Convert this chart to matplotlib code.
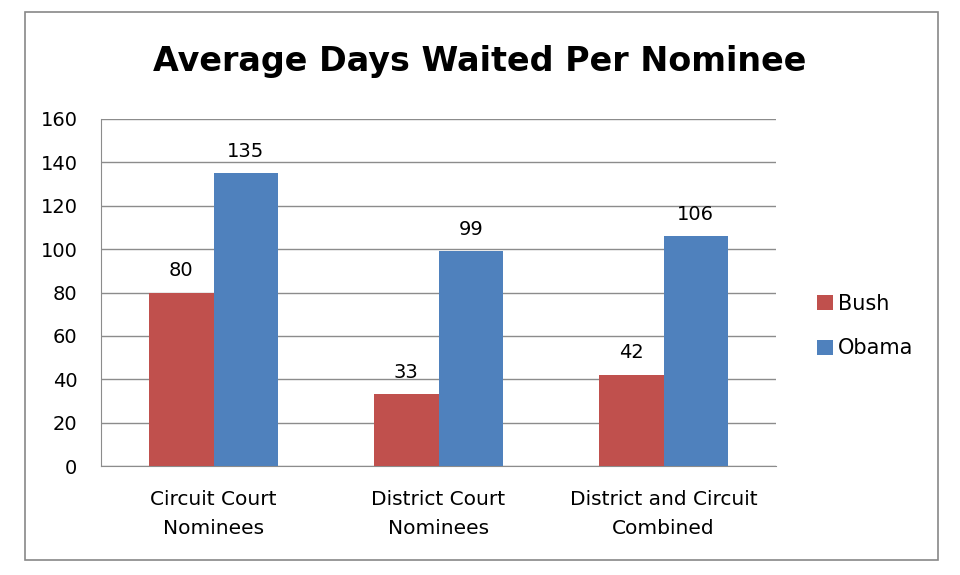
import numpy as np
import matplotlib
matplotlib.use('Agg')
import matplotlib.pyplot as plt
from matplotlib.patches import Rectangle

# Данные
categories = ['Circuit Court\nNominees', 'District Court\nNominees', 'District and Circuit\nCombined']
bush = [80, 33, 42]
obama = [135, 99, 106]
yticks = [0, 20, 40, 60, 80, 100, 120, 140, 160]

BUSH_COLOR = '#C0504D'
OBAMA_COLOR = '#4F81BD'

fig = plt.figure(figsize=(9.6, 5.75), dpi=100)
fig.patches.append(Rectangle((25/960, 1-560/575), 913/960, 548/575, transform=fig.transFigure,
                             fill=False, edgecolor='#888888', lw=1.2))

ax = fig.add_axes([101/960, 1-466/575, 675/960, 347/575])

x = np.arange(len(categories))
w = 0.286
b1 = ax.bar(x - w/2, bush, w, color=BUSH_COLOR, label='Bush', zorder=3)
b2 = ax.bar(x + w/2, obama, w, color=OBAMA_COLOR, label='Obama', zorder=3)

for bars, vals in ((b1, bush), (b2, obama)):
    for r, v in zip(bars, vals):
        ax.annotate(str(v), (r.get_x() + r.get_width()/2, v), xytext=(0, 9),
                    textcoords='offset points', ha='center', va='bottom', fontsize=14)

ax.set_xlim(-0.5, 2.5)
ax.set_ylim(0, 160)
ax.set_yticks(yticks)
ax.set_xticks(x)
ax.set_xticklabels(categories, fontsize=14.5, linespacing=1.7)
ax.tick_params(axis='y', labelsize=14, length=0, pad=17)
ax.tick_params(axis='x', length=0, pad=17)
ax.yaxis.grid(True, color='#8c8c8c', lw=1, zorder=0)
for s in ('top', 'right'):
    ax.spines[s].set_visible(False)
ax.spines['left'].set_color('#8c8c8c')
ax.spines['bottom'].set_color('#8c8c8c')

fig.text(480/960, 1-62/575, 'Average Days Waited Per Nominee', ha='center', va='center',
         fontsize=24, fontweight='bold')

fig.legend(handles=[b1, b2], loc='center left', bbox_to_anchor=(817/960, 1-326/575),
           frameon=False, fontsize=15, handlelength=0.75, handleheight=0.75,
           handletextpad=0.25, labelspacing=1.2, borderpad=0, borderaxespad=0)

fig.savefig('out.png', dpi=100)
